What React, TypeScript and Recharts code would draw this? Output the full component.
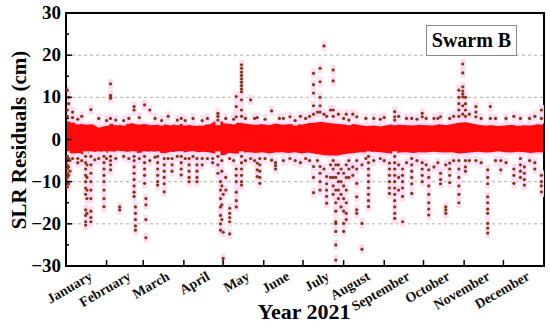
import React from "react";
import {
  ComposedChart,
  Area,
  Scatter,
  ErrorBar,
  XAxis,
  YAxis,
  ReferenceLine,
  ReferenceArea,
} from "recharts";

const FONT = '"Liberation Serif", "Times New Roman", Times, Tinos, "DejaVu Serif", serif';

const monthNames = [
  "January", "February", "March", "April", "May", "June",
  "July", "August", "September", "October", "November", "December",
];
// day of year at the middle of each month (labels) and at month boundaries (tick marks)
const monthMid = [15.5, 45, 74.5, 105, 135.5, 166, 196.5, 227.5, 258, 288.5, 319, 349.5];
const monthEnds = [31, 59, 90, 120, 151, 181, 212, 243, 273, 304, 334];

const yTicks = [-30, -25, -20, -15, -10, -5, 0, 5, 10, 15, 20, 25, 30];
const gridValues = [-20, -10, 10, 20];

// dense core of residuals: [day, low, high] in cm
const band: [number, number, number][] = [
  [0, -4.0, 4.5], [5, -3.5, 4.2], [10, -3.2, 3.8], [15, -3.8, 3.5], [20, -3.0, 3.6],
  [25, -2.8, 2.8], [30, -3.2, 3.2], [35, -3.0, 3.8], [40, -2.6, 3.4], [45, -3.0, 3.6],
  [50, -2.8, 3.9], [55, -3.2, 3.5], [60, -3.0, 3.7], [65, -2.8, 3.4], [70, -3.0, 3.5],
  [75, -3.3, 3.6], [80, -2.9, 3.3], [85, -3.0, 3.8], [90, -3.1, 3.6], [95, -2.8, 3.4],
  [100, -3.0, 3.2], [105, -2.9, 3.5], [110, -3.1, 3.6], [115, -3.6, 4.5], [120, -3.8, 4.2],
  [125, -3.2, 3.7], [130, -3.4, 3.9], [135, -3.1, 4.0], [140, -3.0, 3.6], [145, -3.2, 3.5],
  [150, -3.0, 3.7], [155, -3.3, 3.4], [160, -3.1, 3.8], [165, -3.0, 3.5], [170, -3.2, 3.6],
  [175, -3.0, 3.7], [180, -3.3, 3.5], [185, -3.1, 3.9], [190, -3.4, 4.0], [195, -3.6, 4.2],
  [200, -3.8, 3.9], [205, -3.9, 3.8], [210, -3.6, 3.6], [215, -3.4, 3.5], [220, -3.2, 3.7],
  [225, -3.0, 3.4], [230, -3.1, 3.2], [235, -2.9, 3.3], [240, -3.0, 3.1], [245, -3.2, 3.4],
  [250, -3.4, 3.6], [255, -3.1, 3.5], [260, -3.0, 3.4], [265, -3.2, 3.3], [270, -3.0, 3.5],
  [275, -3.1, 3.4], [280, -2.9, 3.3], [285, -3.0, 3.6], [290, -3.1, 3.4], [295, -3.0, 3.7],
  [300, -3.3, 4.0], [305, -3.2, 4.1], [310, -3.0, 3.8], [315, -2.9, 3.5], [320, -3.1, 3.3],
  [325, -3.0, 3.4], [330, -2.8, 3.2], [335, -3.0, 3.3], [340, -3.1, 3.5], [345, -2.9, 3.2],
  [350, -3.0, 3.4], [355, -3.2, 3.3], [360, -3.0, 3.6], [365, -3.1, 3.5],
];

// outlying residuals: [day, values in cm]
const outliers: [number, number[]][] = [
  [1, [11.7, 7.0, 5.5, -4, -5, -6, -7, -8, -9, -10, -11.2]],
  [2, [10.0, 8.5, -4.5, -6.5, -8.5, -10.5]],
  [3, [-5, -7.5]],
  [5, [6.5, 5.2, -4.5]],
  [9, [4.8, -4.5, -5.5]],
  [12, [5.5, -5]],
  [15, [-4, -5.5, -7, -8.5, -10, -11.5, -13, -16.7, -18, -19.5, -20.3]],
  [16, [-6, -9, -12, -14, -17.5]],
  [19, [7.1, -4, -6, -8, -10, -12, -14, -17, -18.5, -19.5]],
  [22, [-4.8]],
  [25, [5, -4.5]],
  [29, [-4, -5.5, -7, -8.5, -10, -12, -14, -15.9]],
  [31, [4.5, -4.5]],
  [34, [13.2, 10.5, 10.0, 9.8, 5, -4, -5, -6, -7.2]],
  [38, [4.6, -4.5]],
  [41, [-16, -16.7]],
  [44, [4.5, -4]],
  [48, [5, -4.5]],
  [52, [7.8, 7.0, -4, -5, -6.5, -8, -9.5, -11, -12.5, -13.5]],
  [53, [-16, -17.5, -19, -20.5, -21.5]],
  [56, [5.2, -4.5]],
  [60, [8.2, -4, -5.5, -7, -8.5, -10.4]],
  [61, [-14, -15.5, -19, -23.3]],
  [64, [7.0, -5]],
  [68, [5, -4.2]],
  [70, [-4, -5.5, -7, -8.5, -10, -10.8]],
  [73, [4.5]],
  [75, [-4.5, -6, -7.5, -9, -10.5, -12.4]],
  [78, [5.5, -4.5]],
  [81, [-4.5, -6, -7.5]],
  [85, [4.6, -4]],
  [88, [5, -4, -5.5, -7, -8.4]],
  [91, [4.5, -4.5]],
  [94, [-4.5, -6, -7.5, -9, -10]],
  [97, [5, -4]],
  [100, [-4.5, -6, -7.5, -9, -10]],
  [104, [4.5, -4.5, -6]],
  [108, [5, -4.5]],
  [112, [-4.5, -5.5]],
  [116, [6.2, 5.5, 4.6, -4, -6, -8]],
  [118, [-10, -12, -14, -16, -18, -20, -21.5]],
  [119, [-5, -7.5, -11, -15.5, -19]],
  [120, [-28.2, -22, -13]],
  [122, [5, -9, -12]],
  [125, [-4.5, -16.3, -17.5, -18.5, -19.5, -22.4]],
  [128, [4.8, -5]],
  [130, [10.2, 7.8, 5.4, -7, -8.5, -10, -12.5, -14.5, -16]],
  [134, [17.7, 16.9, 16, 15.2, 14.4, 13.6, 12.8, 12, 11.3, 9.4, 7, 5.5, -4, -5.5, -7, -8.5, -10, -10.8]],
  [137, [5, -5]],
  [141, [9.4, -4.5]],
  [144, [5, -5]],
  [146, [5.2, -5.6, -7.2, -8.8]],
  [148, [-4.5, -6, -7.5, -9, -10.4]],
  [152, [4.8, -4.5]],
  [157, [6.8, -4.9]],
  [160, [-5.5, -6.2, -7]],
  [163, [5]],
  [166, [5, -5]],
  [171, [5.4, -4.5]],
  [175, [4.5, -5]],
  [179, [5.5, -5.5]],
  [183, [5, -4.5]],
  [186, [5.5, -5]],
  [189, [15.7, 13, 11, 8, 6, -6.4, -9, -12.6]],
  [192, [6.5, -5]],
  [194, [16.9, 13.7, 10, 8, 6.5, -6.4, -8, -10, -12]],
  [197, [22.2, 6, -7]],
  [199, [5.5, -8.8, -10.5, -12, -13.5, -15.1]],
  [202, [7, -6, -9]],
  [204, [16.5, 13.9, 7, 5.5, -5, -7, -9, -11, -13]],
  [206, [-6, -9, -12, -15, -17, -19.5, -19.9, -21.8, -25, -28.6]],
  [208, [6, -6, -8, -10, -12, -14]],
  [210, [-7, -10, -13, -16]],
  [212, [5, -8, -11, -14, -17, -19.9, -21.8]],
  [214, [6, -6, -9, -12, -15, -17.5, -19]],
  [216, [4.6, -5, -7, -9]],
  [219, [6, -6.5, -8.5]],
  [222, [5.4, -5, -7, -10.4, -13.6, -16.7, -17.5]],
  [226, [-6, -19.9, -26]],
  [229, [5, -4.5]],
  [231, [-4, -5.5, -7, -8.5, -10, -11.5, -13, -14.5, -15.9]],
  [235, [5, -5]],
  [240, [4.8, -4.5]],
  [243, [5.2, -5]],
  [247, [-5.6, -7, -8.5, -10, -11.5, -12.8]],
  [251, [6.6, 5.4, 4.6, -4, -5.5, -7, -8.5, -10, -11.5, -13, -14.5, -16, -17.5, -18.7]],
  [254, [5.5, -6, -9, -12]],
  [257, [-7, -8.5, -10, -11.5, -13.5, -19.5]],
  [260, [5, -5.5]],
  [264, [5, -4.5, -6, -7.5, -9, -10.5, -12.8]],
  [268, [4.8, -5]],
  [272, [6.2, 5.4, -5.5, -7, -8.5, -10]],
  [275, [5, -6]],
  [277, [-7.2, -9, -11, -13, -15, -16.5, -17.9]],
  [281, [5, -6.5]],
  [284, [5, -5.5]],
  [286, [5.4, -8, -9.5, -10.5]],
  [290, [-6, -16, -16.7, -17.5]],
  [293, [5, -5.6, -7, -8.5, -10.2]],
  [296, [5.5, -5]],
  [300, [11.7, 10, 8.5, 7, 5.5, -5, -7, -9, -11, -13, -15]],
  [303, [17.9, 15.8, 12.5, 11.5, 10.8, 10.1, 8, 6]],
  [305, [10, 8.5, 7, 5.5, -5, -6.5, -7.5]],
  [308, [6, -5]],
  [313, [7.8, 6.5, 5.4, -5]],
  [317, [5, -5.5]],
  [322, [-7.2, -9, -10.5, -13.6, -15, -16.5, -17.5, -19.9, -21, -22.2]],
  [324, [7.8, 5]],
  [328, [5, -5]],
  [332, [-5, -7.2]],
  [336, [5, -5.5]],
  [342, [5.5, -7, -8.5, -10.4]],
  [347, [5, -4.5, -6, -7.5, -9]],
  [350, [-6.5, -8, -9.5, -10.8]],
  [354, [5, -5]],
  [358, [5.5, -5.5, -7]],
  [363, [7, 5, -8.5, -10, -11, -12.4]],
];

const HALO = 1.2; // half height of the pink error bar behind each point
const PINK = "#ffdcf5";

const bandData = band.map(([d, lo, hi]) => ({ d, band: [lo, hi] }));
const pointData = outliers.flatMap(([d, vals]) => vals.map((v) => ({ d, v, e: HALO })));
const xTicks = [...monthEnds, ...monthMid].sort((a, b) => a - b);

function YTick({ x, y, payload }: any) {
  const v = payload.value;
  const major = v % 10 === 0;
  return (
    <g>
      <line x1={x} x2={x + (major ? 6 : 3)} y1={y} y2={y} stroke="#000" strokeWidth={1.5} />
      {major && (
        <text x={x - 5} y={y} dy={6} textAnchor="end" fontFamily={FONT} fontWeight="bold" fontSize={19} fill="#000">
          {v < 0 ? `\u2212${-v}` : v}
        </text>
      )}
    </g>
  );
}

function XTick({ x, y, payload }: any) {
  const v = payload.value;
  const idx = monthMid.indexOf(v);
  if (idx < 0) {
    return <line x1={x} x2={x} y1={y} y2={y - 6} stroke="#000" strokeWidth={1.5} />;
  }
  return (
    <text
      transform={`translate(${x + 7},${y + 13}) rotate(-30)`}
      textAnchor="end"
      fontFamily={FONT}
      fontWeight="bold"
      fontSize={14}
      fill="#111"
    >
      {monthNames[idx]}
    </text>
  );
}

export default function App() {
  return (
    <div style={{ position: "absolute", left: 0, top: 0, width: 550, height: 327, background: "#fff", fontFamily: FONT }}>
      <ComposedChart width={550} height={327} data={bandData} margin={{ top: 13, right: 6, left: 0, bottom: 0 }}>
        <XAxis
          dataKey="d"
          type="number"
          domain={[0, 365]}
          ticks={xTicks}
          interval={0}
          tickSize={0}
          tickMargin={0}
          tickLine={false}
          tick={<XTick />}
          height={61}
          axisLine={{ stroke: "#000", strokeWidth: 2 }}
          allowDataOverflow
        />
        <YAxis
          type="number"
          domain={[-30, 30]}
          ticks={yTicks}
          interval={0}
          tickSize={0}
          tickMargin={0}
          tickLine={false}
          tick={<YTick />}
          width={66}
          axisLine={{ stroke: "#000", strokeWidth: 2 }}
          allowDataOverflow
        />
        {gridValues.map((g) => (
          <ReferenceLine key={g} y={g} stroke="#b0b0b0" strokeDasharray="3 3" strokeWidth={1} />
        ))}
        <Area
          dataKey="band"
          type="linear"
          stroke={PINK}
          strokeWidth={5}
          fill={PINK}
          fillOpacity={1}
          dot={false}
          activeDot={false}
          isAnimationActive={false}
        />
        <Scatter
          data={pointData}
          dataKey="v"
          isAnimationActive={false}
          shape={(p: any) => <circle cx={p.cx} cy={p.cy} r={1.6} fill="#8a3514" />}
        >
          <ErrorBar dataKey="e" direction="y" width={0} stroke={PINK} strokeWidth={5} />
        </Scatter>
        <Area
          dataKey="band"
          type="linear"
          stroke="none"
          fill="#ff0a0a"
          fillOpacity={1}
          dot={false}
          activeDot={false}
          isAnimationActive={false}
        />
        <ReferenceArea x1={0} x2={365} y1={-30} y2={30} fill="none" stroke="#000" strokeWidth={2} />
      </ComposedChart>

      <div
        style={{
          position: "absolute",
          left: 19,
          top: 140,
          transform: "translate(-50%, -50%) rotate(-90deg)",
          whiteSpace: "nowrap",
          fontSize: 21,
          fontWeight: "bold",
          lineHeight: 1,
        }}
      >
        SLR Residuals (cm)
      </div>
      <div
        style={{
          position: "absolute",
          left: 304,
          top: 312,
          transform: "translate(-50%, -50%)",
          whiteSpace: "nowrap",
          fontSize: 22,
          fontWeight: "bold",
          lineHeight: 1,
        }}
      >
        Year 2021
      </div>
      <div
        style={{
          position: "absolute",
          left: 426,
          top: 25,
          width: 89,
          height: 29,
          border: "1px solid #888",
          background: "#fff",
          fontSize: 20,
          fontWeight: "bold",
          lineHeight: "29px",
          textAlign: "center",
          whiteSpace: "nowrap",
        }}
      >
        Swarm B
      </div>
    </div>
  );
}
